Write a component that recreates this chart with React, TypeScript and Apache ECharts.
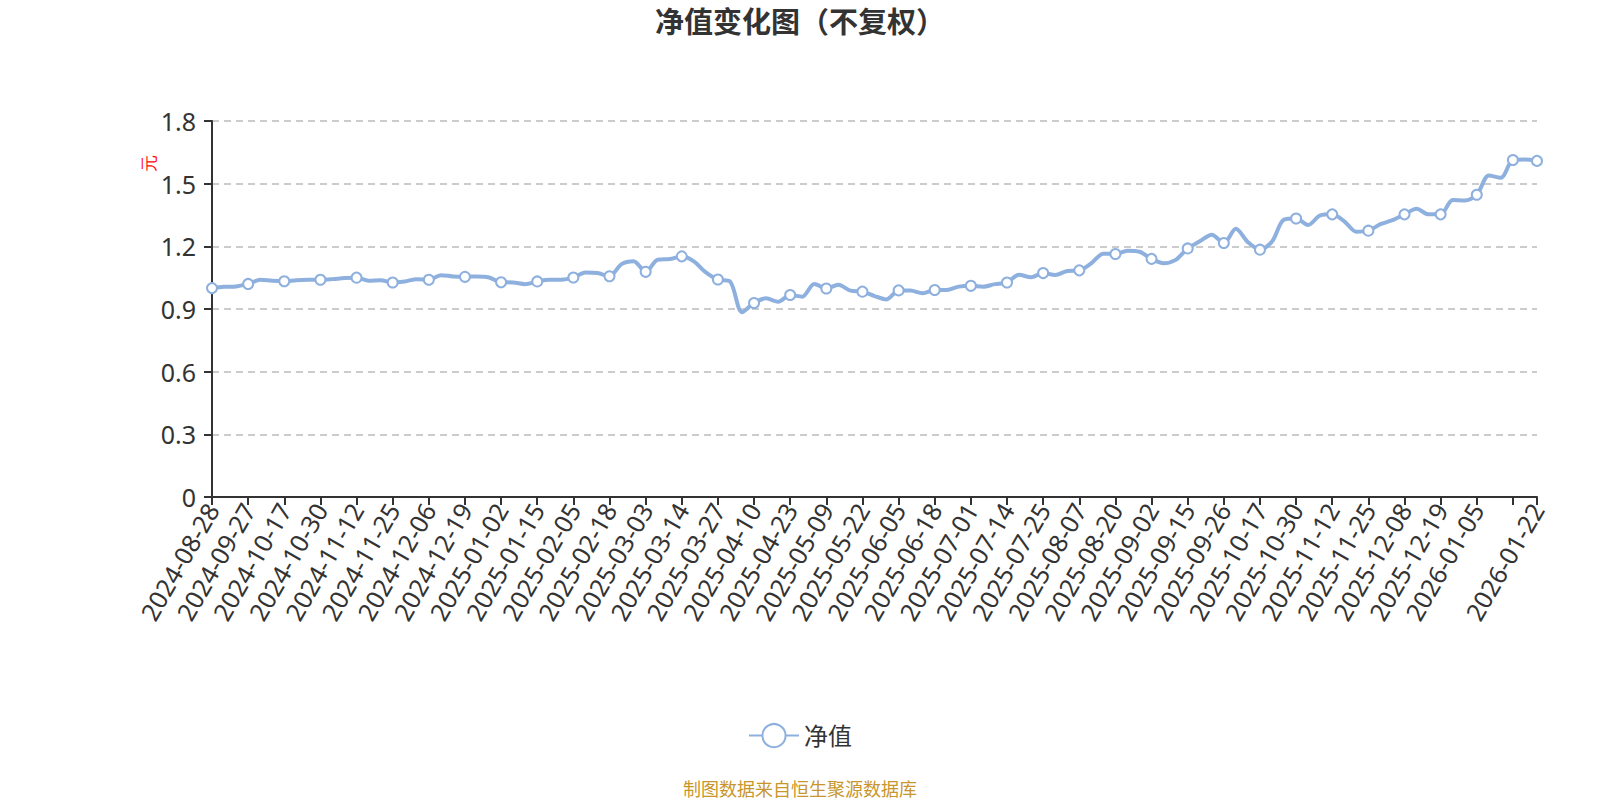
import React, { useEffect, useRef } from 'react';
import * as echarts from 'echarts';

// every third trading day, plus the last two days
const dates = [
  '2024-08-28', '2024-09-06', '2024-09-18',
  '2024-09-27', '2024-10-09', '2024-10-14',
  '2024-10-17', '2024-10-22', '2024-10-25',
  '2024-10-30', '2024-11-04', '2024-11-07',
  '2024-11-12', '2024-11-15', '2024-11-20',
  '2024-11-25', '2024-11-28', '2024-12-03',
  '2024-12-06', '2024-12-11', '2024-12-16',
  '2024-12-19', '2024-12-24', '2024-12-27',
  '2025-01-02', '2025-01-07', '2025-01-10',
  '2025-01-15', '2025-01-20', '2025-01-23',
  '2025-02-05', '2025-02-10', '2025-02-13',
  '2025-02-18', '2025-02-21', '2025-02-26',
  '2025-03-03', '2025-03-06', '2025-03-11',
  '2025-03-14', '2025-03-19', '2025-03-24',
  '2025-03-27', '2025-04-01', '2025-04-07',
  '2025-04-10', '2025-04-15', '2025-04-18',
  '2025-04-23', '2025-04-28', '2025-05-06',
  '2025-05-09', '2025-05-14', '2025-05-19',
  '2025-05-22', '2025-05-27', '2025-05-30',
  '2025-06-05', '2025-06-10', '2025-06-13',
  '2025-06-18', '2025-06-23', '2025-06-26',
  '2025-07-01', '2025-07-04', '2025-07-09',
  '2025-07-14', '2025-07-17', '2025-07-22',
  '2025-07-25', '2025-07-30', '2025-08-04',
  '2025-08-07', '2025-08-12', '2025-08-15',
  '2025-08-20', '2025-08-25', '2025-08-28',
  '2025-09-02', '2025-09-05', '2025-09-10',
  '2025-09-15', '2025-09-18', '2025-09-23',
  '2025-09-26', '2025-10-09', '2025-10-14',
  '2025-10-17', '2025-10-22', '2025-10-27',
  '2025-10-30', '2025-11-04', '2025-11-07',
  '2025-11-12', '2025-11-17', '2025-11-20',
  '2025-11-25', '2025-11-28', '2025-12-03',
  '2025-12-08', '2025-12-11', '2025-12-16',
  '2025-12-19', '2025-12-24', '2025-12-29',
  '2026-01-05', '2026-01-08', '2026-01-13',
  '2026-01-16', '2026-01-20', '2026-01-22',
];

const navValues = [
  1.000, 1.006, 1.008,
  1.020, 1.040, 1.035,
  1.033, 1.038, 1.040,
  1.040, 1.043, 1.048,
  1.050, 1.035, 1.038,
  1.027, 1.032, 1.043,
  1.040, 1.062, 1.056,
  1.054, 1.056, 1.051,
  1.028, 1.027, 1.019,
  1.032, 1.040, 1.040,
  1.051, 1.075, 1.072,
  1.057, 1.115, 1.129,
  1.078, 1.136, 1.139,
  1.152, 1.128, 1.075,
  1.041, 1.032, 0.885,
  0.929, 0.951, 0.935,
  0.967, 0.959, 1.020,
  0.998, 1.016, 0.988,
  0.983, 0.962, 0.946,
  0.989, 0.988, 0.975,
  0.991, 0.991, 1.007,
  1.011, 1.007, 1.019,
  1.027, 1.064, 1.052,
  1.072, 1.063, 1.082,
  1.085, 1.119, 1.165,
  1.163, 1.179, 1.174,
  1.140, 1.119, 1.135,
  1.190, 1.224, 1.256,
  1.216, 1.284, 1.220,
  1.184, 1.223, 1.328,
  1.333, 1.302, 1.348,
  1.353, 1.320, 1.270,
  1.275, 1.306, 1.325,
  1.353, 1.380, 1.353,
  1.353, 1.422, 1.419,
  1.447, 1.539, 1.528,
  1.613, 1.616, 1.609,
];

const lastIndex = dates.length - 1;
const hiddenLabel = dates.indexOf('2026-01-16');
const lineColor = '#8eb0de';

const isTick = (i: number) => i % 3 === 0 || i === lastIndex;
const isLabel = (i: number) => (i % 3 === 0 && i !== hiddenLabel) || i === lastIndex;

const NavChart: React.FC = () => {
  const chartRef = useRef<HTMLDivElement>(null);

  useEffect(() => {
    const chart = echarts.init(chartRef.current!, undefined, { renderer: 'svg' });

    const options = {
      animation: false,
      textStyle: { fontFamily: '"Noto Sans", "Noto Sans CJK SC", sans-serif' },
      title: [
        {
          text: '净值变化图（不复权）',
          left: 'center',
          top: 7,
          padding: 0,
          textStyle: { fontSize: 29, fontWeight: 'bold', color: '#333' },
        },
        {
          text: '制图数据来自恒生聚源数据库',
          left: 'center',
          bottom: 2,
          padding: 0,
          textStyle: { fontSize: 18, fontWeight: 'normal', color: '#c8962d' },
        },
      ],
      legend: {
        data: ['净值'],
        top: 723,
        left: 'center',
        padding: 0,
        itemWidth: 50,
        itemHeight: 29,
        textStyle: { fontSize: 24, color: '#333' },
      },
      graphic: [
        {
          type: 'text',
          x: 149,
          y: 163,
          rotation: Math.PI / 2,
          style: {
            text: '元',
            fontSize: 17,
            fill: '#ff0000',
            align: 'center',
            verticalAlign: 'middle',
          },
        },
      ],
      grid: { left: 212, right: 63, top: 121, bottom: 303 },
      xAxis: {
        type: 'category',
        data: dates,
        boundaryGap: false,
        axisLine: { lineStyle: { color: '#333', width: 2 } },
        axisTick: { interval: isTick, length: 8, lineStyle: { color: '#333', width: 2 } },
        axisLabel: {
          interval: isLabel,
          rotate: 60,
          fontSize: 25,
          color: '#333',
          margin: 8,
        },
        splitLine: { show: false },
      },
      yAxis: {
        type: 'value',
        min: 0,
        max: 1.8,
        interval: 0.3,
        axisLine: { show: true, lineStyle: { color: '#333', width: 2 } },
        axisTick: { show: true, length: 8, lineStyle: { color: '#333', width: 2 } },
        axisLabel: { fontSize: 25, color: '#333', margin: 16 },
        splitLine: { lineStyle: { color: '#cccccc', width: 2, type: [7, 5] } },
      },
      series: [
        {
          name: '净值',
          type: 'line',
          data: navValues,
          smooth: 0.3,
          showAllSymbol: true,
          symbol: 'emptyCircle',
          symbolSize: (_v: number, params: any) => (isTick(params.dataIndex) ? 10 : 0),
          lineStyle: { color: lineColor, width: 4 },
          itemStyle: { color: lineColor, borderColor: lineColor, borderWidth: 2 },
        },
      ],
    };

    chart.setOption(options as any);

    return () => {
      chart.dispose();
    };
  }, []);

  return (
    <div
      ref={chartRef}
      style={{ position: 'absolute', left: 0, top: 0, width: '1600px', height: '800px' }}
    />
  );
};

export default function App() {
  return <NavChart />;
}
